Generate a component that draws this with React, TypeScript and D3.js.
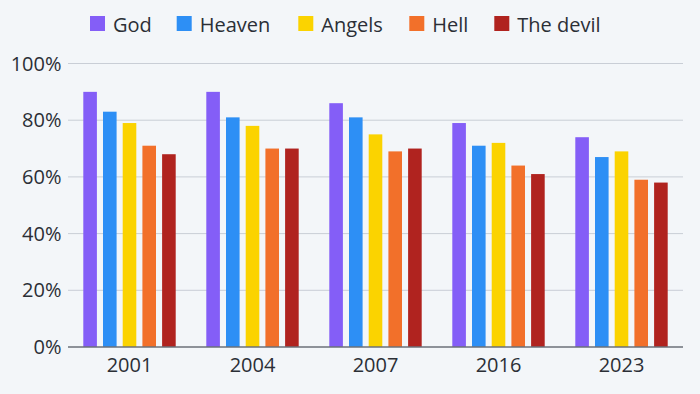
import React from "react";
import * as d3 from "d3";

const years = ["2001", "2004", "2007", "2016", "2023"];
const seriesNames = ["God", "Heaven", "Angels", "Hell", "The devil"];
const god = [90, 90, 86, 79, 74];
const heaven = [83, 81, 81, 71, 67];
const angels = [79, 78, 75, 72, 69];
const hell = [71, 70, 69, 64, 59];
const devil = [68, 70, 70, 61, 58];
const yTicks = [0, 20, 40, 60, 80, 100];
const colors = ["#845ef7", "#2d8ff5", "#fbd300", "#f2702a", "#b0231f"];

const W = 700;
const H = 394;
const FONT = "'Open Sans', 'Noto Sans', sans-serif";

export default function App() {
  const seriesValues = [god, heaven, angels, hell, devil];
  const x0 = d3.scaleBand<string>().domain(years).range([68, 683]).padding(0);
  const bw = x0.bandwidth();
  const x1 = d3
    .scaleBand<string>()
    .domain(seriesNames)
    .range([(bw - 92.4) / 2, (bw + 92.4) / 2])
    .paddingInner(0.31)
    .paddingOuter(0);
  const y = d3.scaleLinear().domain([0, 100]).range([347, 63.5]);

  const legendX = [90, 176.7, 298.3, 409.3, 494.3];

  return (
    <svg
      width={W}
      height={H}
      style={{ position: "fixed", left: 0, top: 0, background: "#f3f6f9" }}
      fontFamily={FONT}
    >
      <rect x={0} y={0} width={W} height={H} fill="#f3f6f9" />
      {/* legend */}
      {seriesNames.map((s, i) => (
        <g key={s}>
          <rect x={legendX[i]} y={16} width={15} height={15} fill={colors[i]} />
          <text x={legendX[i] + 23} y={31.5} fontSize={20} fill="#2b2f36">
            {s}
          </text>
        </g>
      ))}
      {/* gridlines */}
      {yTicks.map((t) => (
        <g key={t}>
          {t !== 0 && (
            <line x1={68} x2={683} y1={y(t)} y2={y(t)} stroke="#c9ced6" strokeWidth={1} />
          )}
          <text
            x={61.5}
            y={y(t) + 7}
            fontSize={20}
            textAnchor="end"
            fill="#2b2f36"
          >
            {t}%
          </text>
        </g>
      ))}
      {/* bars */}
      {years.map((yr, gi) => (
        <g key={yr} transform={`translate(${x0(yr)},0)`}>
          {seriesNames.map((s, si) => {
            const v = seriesValues[si][gi];
            return (
              <rect
                key={s}
                x={x1(s)}
                y={y(v)}
                width={x1.bandwidth()}
                height={y(0) - y(v)}
                fill={colors[si]}
              />
            );
          })}
          <text
            x={bw / 2}
            y={372}
            fontSize={20}
            textAnchor="middle"
            fill="#2b2f36"
          >
            {yr}
          </text>
        </g>
      ))}
      {/* baseline */}
      <line x1={68} x2={683} y1={y(0)} y2={y(0)} stroke="#6b7078" strokeWidth={1.5} />
    </svg>
  );
}
